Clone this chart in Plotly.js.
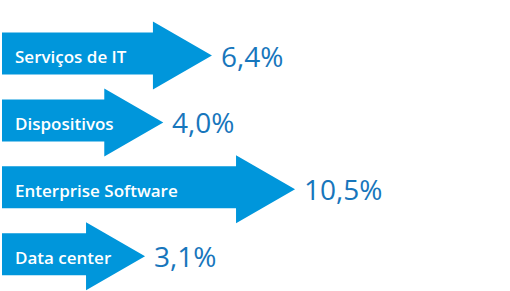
<!DOCTYPE html>
<html>
<head>
<meta charset="utf-8">
<script src="https://cdn.plot.ly/plotly-3.0.1.min.js"></script>
<style>
  html, body { margin: 0; padding: 0; background: #ffffff; }
  #chart { width: 510px; height: 291px; }
</style>
</head>
<body>
<div id="chart"></div>
<script>
// Growth by segment (%)
const categories = ["Serviços de IT", "Dispositivos", "Enterprise Software", "Data center"];
const growth = [6.4, 4.0, 10.5, 3.1];
const valueLabels = ["6,4%", "4,0%", "10,5%", "3,1%"];

// Layout of the arrow strip
const W = 510, H = 291;
const pxPerUnit = 20.27;       // horizontal pixels per percentage point
const zeroPx = 82.2;           // pixel position of 0%
const rowPx = 66.9;            // vertical spacing between arrows
const firstRowPx = 55.5;       // centre of the first arrow
const headLenPx = 59;
const headHalfPx = 34;
const bodyTopPx = 23, bodyBottomPx = 19;
const leftPx = 2;

const xRange = [-zeroPx / pxPerUnit, (W - zeroPx) / pxPerUnit];
const yRange = [(H - firstRowPx) / rowPx, -firstRowPx / rowPx];

const arrowColor = "#0096DB";
const valueColor = "#1776BC";

const traces = [];
const annotations = [];
const x0 = xRange[0] + leftPx / pxPerUnit;
const headLen = headLenPx / pxPerUnit;
const headHalf = headHalfPx / rowPx;
const bTop = bodyTopPx / rowPx, bBot = bodyBottomPx / rowPx;

categories.forEach((cat, i) => {
  const v = growth[i];
  const hb = v - headLen;
  traces.push({
    type: "scatter",
    mode: "lines",
    x: [x0, hb, hb, v, hb, hb, x0, x0],
    y: [i - bTop, i - bTop, i - headHalf, i, i + headHalf, i + bBot, i + bBot, i - bTop],
    fill: "toself",
    fillcolor: arrowColor,
    line: { width: 0, color: arrowColor },
    hoverinfo: "skip",
    showlegend: false
  });
  annotations.push({
    x: x0, y: i, xref: "x", yref: "y",
    text: cat, showarrow: false,
    xanchor: "left", yanchor: "middle", xshift: 11, yshift: -1,
    font: { family: "Open Sans", size: 17, color: "#ffffff", weight: 600 }
  });
  annotations.push({
    x: v, y: i, xref: "x", yref: "y",
    text: valueLabels[i], showarrow: false,
    xanchor: "left", yanchor: "middle", xshift: 7,
    font: { family: "Open Sans", size: 28, color: valueColor }
  });
});

const layout = {
  width: W, height: H,
  margin: { l: 0, r: 0, t: 0, b: 0 },
  paper_bgcolor: "#ffffff",
  plot_bgcolor: "#ffffff",
  xaxis: { range: xRange, visible: false, fixedrange: true },
  yaxis: { range: yRange, visible: false, fixedrange: true },
  annotations: annotations,
  showlegend: false
};

Plotly.newPlot("chart", traces, layout, { staticPlot: true, displayModeBar: false });
</script>
</body>
</html>
